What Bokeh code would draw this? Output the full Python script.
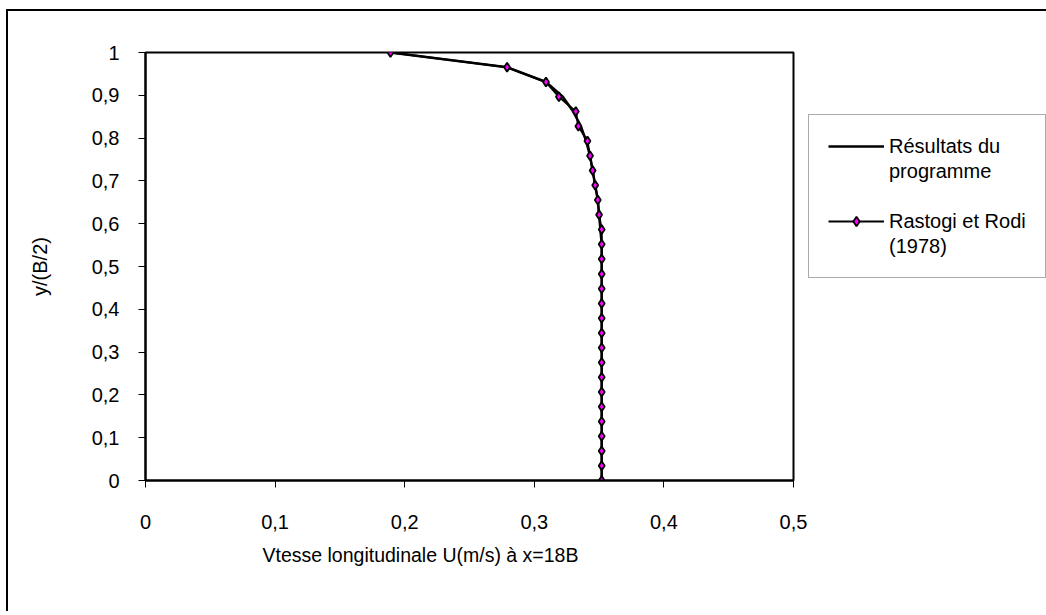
from bokeh.plotting import figure
from bokeh.layouts import row
from bokeh.models import FixedTicker, Legend, LegendItem, Range1d, Title
from bokeh.embed import file_html
from bokeh.resources import INLINE

# ---- data ----
y_pos = [k / 29 for k in range(30)]
rastogi_u = [0.352, 0.352, 0.352, 0.352, 0.352, 0.352, 0.352, 0.352, 0.352, 0.352,
             0.352, 0.352, 0.352, 0.352, 0.352, 0.352, 0.352, 0.352, 0.350, 0.349,
             0.347, 0.345, 0.343, 0.341, 0.334, 0.332, 0.319, 0.309, 0.279, 0.189]
program_u = [0.352, 0.352, 0.352, 0.352, 0.352, 0.352, 0.352, 0.352, 0.352, 0.352,
             0.352, 0.352, 0.352, 0.352, 0.352, 0.352, 0.352, 0.351, 0.350, 0.349,
             0.347, 0.345, 0.343, 0.340, 0.336, 0.330, 0.322, 0.309, 0.279, 0.189]
x_ticks = [0, 0.1, 0.2, 0.3, 0.4, 0.5]
x_labels = ["0", "0,1", "0,2", "0,3", "0,4", "0,5"]
y_ticks = [0, 0.1, 0.2, 0.3, 0.4, 0.5, 0.6, 0.7, 0.8, 0.9, 1]
y_labels = ["0", "0,1", "0,2", "0,3", "0,4", "0,5", "0,6", "0,7", "0,8", "0,9", "1"]
x_title = "Vtesse longitudinale U(m/s) à x=18B"
y_title = "y/(B/2)"
legend_lines = ["Résultats du", "programme", " ", "Rastogi et Rodi", "(1978)"]

FONT = "Liberation Sans"

p = figure(width=800, height=600, x_range=Range1d(0, 0.5), y_range=Range1d(0, 1),
           output_backend="svg", toolbar_location=None,
           min_border_left=137, min_border_top=41, min_border_right=15, min_border_bottom=131)

p.grid.visible = False
p.outline_line_color = "black"
p.outline_line_width = 2
p.background_fill_color = "white"
p.border_fill_color = "white"

for ax in (p.xaxis[0], p.yaxis[0]):
    ax.axis_line_width = 2
    ax.axis_line_color = "black"
    ax.major_tick_in = 0
    ax.major_tick_out = 7
    ax.major_tick_line_width = 1
    ax.minor_tick_line_color = None
    ax.major_label_text_font = FONT
    ax.major_label_text_font_size = "20px"
    ax.major_label_text_color = "black"
    ax.axis_label_text_font = FONT
    ax.axis_label_text_font_size = "20px"
    ax.axis_label_text_font_style = "normal"
    ax.axis_label_text_color = "black"

p.xaxis.ticker = FixedTicker(ticks=x_ticks)
p.yaxis.ticker = FixedTicker(ticks=y_ticks)
p.xaxis.major_label_overrides = dict(zip(x_ticks, x_labels))
p.yaxis.major_label_overrides = dict(zip(y_ticks, y_labels))
p.yaxis.axis_label = y_title
p.xaxis.major_label_standoff = 27
p.yaxis.major_label_standoff = 19
p.yaxis.axis_label_standoff = 38

xt = Title(text=x_title, align="left", offset=117, standoff=20,
           text_font=FONT, text_font_size="19.5px", text_font_style="normal",
           text_color="black")
p.add_layout(xt, "below")

line_style = dict(line_color="black")
marker_style = dict(marker="diamond", size=9, fill_color="#FF00FF", line_color="black", line_width=1.8)

p.line(program_u, y_pos, line_width=2.5, **line_style)
p.line(rastogi_u, y_pos, line_width=2, **line_style)
p.scatter(rastogi_u, y_pos, **marker_style)

# ---- legend panel (separate figure on the right; its ranges keep the data out of view) ----
q = figure(width=238, height=600, x_range=Range1d(5, 6), y_range=Range1d(5, 6),
           output_backend="svg", toolbar_location=None, x_axis_type=None, y_axis_type=None,
           min_border=0)
q.grid.visible = False
q.outline_line_color = None
q.background_fill_color = "white"
q.border_fill_color = "white"

lp = q.line(program_u, y_pos, line_width=2.5, **line_style)
lr = q.line(rastogi_u, y_pos, line_width=2, **line_style)
ls = q.scatter(rastogi_u, y_pos, **marker_style)
blank = q.line(program_u, y_pos, line_alpha=0)

renderer_sets = [[lp], [blank], [blank], [lr, ls], [blank]]
leg = Legend(items=[LegendItem(label=t, renderers=r) for t, r in zip(legend_lines, renderer_sets)],
             location=(0, 202), padding=19, margin=0, spacing=1,
             glyph_width=56, glyph_height=24, label_height=24, label_standoff=5,
             label_text_font=FONT, label_text_font_size="20px", label_text_color="black",
             border_line_color="#555555", border_line_width=1,
             background_fill_color="white", background_fill_alpha=1)
q.add_layout(leg, "center")

layout = row(p, q, spacing=0)
layout.styles = {"margin-left": "6px", "margin-top": "9px",
                 "border-left": "2px solid black", "border-top": "2px solid black"}

open("out.html", "w").write(file_html(layout, INLINE))
